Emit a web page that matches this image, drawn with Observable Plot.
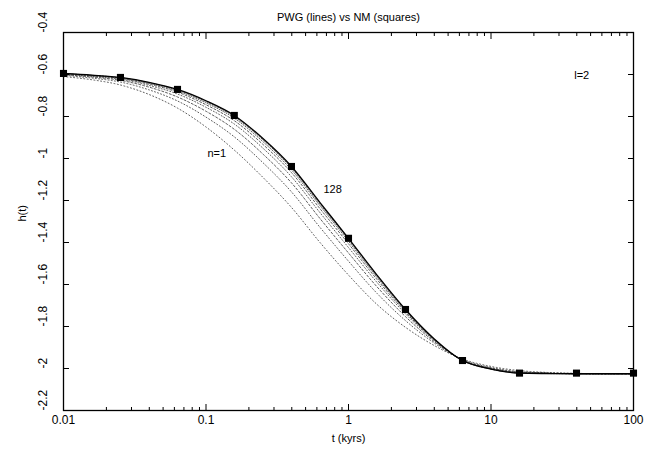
<!DOCTYPE html>
<html><head><meta charset="utf-8">
<script src="https://cdn.jsdelivr.net/npm/d3@7"></script>
<script src="https://cdn.jsdelivr.net/npm/@observablehq/plot@0.6"></script>
<style>body{margin:0;background:#fff}</style>
</head><body><div id="chart"></div>
<script>
// sample times (kyrs) for the PWG curves
const tGrid = [0.01, 0.0158, 0.0251, 0.0398, 0.0631, 0.1, 0.158, 0.251, 0.398, 0.631, 1, 1.585, 2.512, 3.981, 6.31, 10, 15.85, 25.12, 39.81, 63.1, 100];
// PWG curves h(t), one per n
const hN1   = [-0.610, -0.625, -0.650, -0.695, -0.760, -0.850, -0.960, -1.090, -1.233, -1.400, -1.555, -1.695, -1.804, -1.890, -1.955, -1.990, -2.010, -2.019, -2.023, -2.025, -2.025];
const hN2   = [-0.604, -0.617, -0.636, -0.673, -0.726, -0.803, -0.897, -1.020, -1.159, -1.328, -1.489, -1.642, -1.772, -1.878, -1.958, -1.995, -2.015, -2.021, -2.024, -2.025, -2.025];
const hN4   = [-0.601, -0.612, -0.628, -0.660, -0.707, -0.775, -0.861, -0.979, -1.116, -1.286, -1.450, -1.611, -1.753, -1.871, -1.959, -1.998, -2.017, -2.022, -2.024, -2.025, -2.025];
const hN8   = [-0.599, -0.609, -0.623, -0.652, -0.693, -0.756, -0.836, -0.951, -1.087, -1.258, -1.424, -1.590, -1.740, -1.866, -1.960, -2.000, -2.019, -2.023, -2.025, -2.025, -2.025];
const hN16  = [-0.597, -0.606, -0.619, -0.646, -0.684, -0.744, -0.820, -0.933, -1.067, -1.239, -1.406, -1.576, -1.732, -1.863, -1.961, -2.001, -2.020, -2.023, -2.025, -2.025, -2.025];
const hN32  = [-0.596, -0.605, -0.617, -0.642, -0.678, -0.735, -0.808, -0.920, -1.054, -1.225, -1.394, -1.566, -1.726, -1.861, -1.961, -2.002, -2.021, -2.024, -2.025, -2.025, -2.025];
const hN64  = [-0.595, -0.604, -0.615, -0.639, -0.674, -0.729, -0.801, -0.911, -1.045, -1.217, -1.386, -1.560, -1.722, -1.859, -1.962, -2.003, -2.022, -2.024, -2.025, -2.025, -2.025];
const hN128 = [-0.595, -0.603, -0.614, -0.637, -0.671, -0.725, -0.795, -0.905, -1.038, -1.210, -1.380, -1.555, -1.719, -1.858, -1.962, -2.003, -2.022, -2.024, -2.025, -2.025, -2.025];
// NM results (squares)
const nmT = [0.01, 0.0251, 0.0631, 0.158, 0.398, 1, 2.512, 6.31, 15.85, 39.81, 100];
const nmH = [-0.595, -0.614, -0.671, -0.795, -1.038, -1.380, -1.719, -1.962, -2.022, -2.022, -2.022];
// axis ticks
const xMajor = [0.01, 0.1, 1, 10, 100];
const xMajorLabels = ["0.01", "0.1", "1", "10", "100"];
const xMinor = [0.02,0.03,0.04,0.05,0.06,0.07,0.08,0.09, 0.2,0.3,0.4,0.5,0.6,0.7,0.8,0.9, 2,3,4,5,6,7,8,9, 20,30,40,50,60,70,80,90];
const yMajor = [-2.2, -2, -1.8, -1.6, -1.4, -1.2, -1, -0.8, -0.6, -0.4];
const yMajorLabels = ["-2.2", "-2", "-1.8", "-1.6", "-1.4", "-1.2", "-1", "-0.8", "-0.6", "-0.4"];
// annotations
const notes = [
  {t: 43.3, h: -0.605, text: "l=2"},
  {t: 0.119, h: -0.976, text: "n=1"},
  {t: 0.773, h: -1.148, text: "128"}
];

const series = [
  {n: 1, h: hN1, dash: "1,2.4"},
  {n: 2, h: hN2, dash: "1,2.2"},
  {n: 4, h: hN4, dash: "2,2"},
  {n: 8, h: hN8, dash: "1,2"},
  {n: 16, h: hN16, dash: "2,2"},
  {n: 32, h: hN32, dash: "1,1.6"},
  {n: 64, h: hN64, dash: "1.5,1.5"},
  {n: 128, h: hN128, dash: null}
];

const font = "Liberation Sans, Arial, Helvetica, sans-serif";
const lineMarks = series.map(s => Plot.line(tGrid.map((t, i) => ({t, h: s.h[i]})), {
  x: "t", y: "h", curve: "monotone-x", stroke: s.dash ? "#333" : "#000",
  strokeWidth: s.dash ? 0.8 : 1.3, strokeDasharray: s.dash || undefined
}));
const nm = nmT.map((t, i) => ({t, h: nmH[i]}));
const tickOpts = {stroke: "#000", fill: "none", label: null};

const chart = Plot.plot({
  width: 659, height: 454,
  marginLeft: 63, marginRight: 26, marginTop: 32, marginBottom: 44,
  style: {fontFamily: font, fontSize: "11px", background: "#fff", color: "#000"},
  x: {type: "log", domain: [0.01, 100], axis: null},
  y: {domain: [-2.2, -0.4], axis: null},
  marks: [
    ...lineMarks,
    Plot.dot(nm, {x: "t", y: "h", symbol: "square", r: 4, fill: "#000", stroke: "none"}),
    Plot.axisX(xMinor, {anchor: "bottom", tickSize: -3, ...tickOpts}),
    Plot.axisX(xMinor, {anchor: "top", tickSize: -3, ...tickOpts}),
    Plot.axisX(xMajor, {anchor: "bottom", tickSize: -6, ...tickOpts}),
    Plot.axisX(xMajor, {anchor: "top", tickSize: -6, ...tickOpts}),
    Plot.axisY(yMajor, {anchor: "left", tickSize: -6, ...tickOpts}),
    Plot.axisY(yMajor, {anchor: "right", tickSize: -6, ...tickOpts}),
    Plot.frame({stroke: "#000", strokeWidth: 1.3}),
    Plot.text(xMajor.map((v, i) => ({v, s: xMajorLabels[i]})), {x: "v", text: "s", frameAnchor: "bottom", dy: 13, fontSize: 12, fill: "#000"}),
    Plot.text(yMajor.map((v, i) => ({v, s: yMajorLabels[i]})), {y: "v", text: "s", frameAnchor: "left", dx: -20, rotate: -90, fontSize: 12, fill: "#000"}),
    Plot.text(["t (kyrs)"], {frameAnchor: "bottom", dy: 31, fontSize: 11, fill: "#000"}),
    Plot.text(["h(t)"], {frameAnchor: "left", dx: -41, rotate: -90, fontSize: 11, fill: "#000"}),
    Plot.text(["PWG (lines) vs NM (squares)"], {frameAnchor: "top", dy: -19, fontSize: 11, fill: "#000"}),
    Plot.text(notes, {x: "t", y: "h", text: "text", fontSize: 11, fill: "#000"})
  ]
});
document.getElementById("chart").appendChild(chart);
</script>
</body></html>
